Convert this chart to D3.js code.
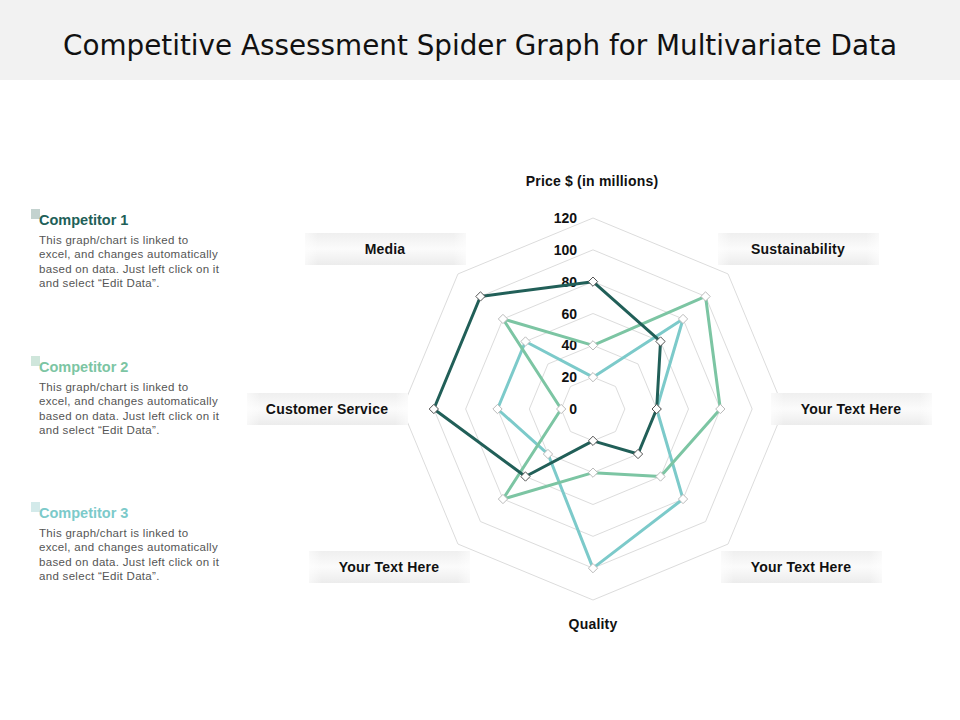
<!DOCTYPE html>
<html>
<head>
<meta charset="utf-8">
<script src="https://cdn.jsdelivr.net/npm/d3@7"></script>
<style>
  html, body { margin: 0; padding: 0; background: #fff; }
  svg { display: block; }
</style>
</head>
<body>
<svg id="chart" width="960" height="720"></svg>
<script>
// ---- data ----
const axes = ["Price $ (in millions)", "Sustainability", "Your Text Here", "Your Text Here",
              "Quality", "Your Text Here", "Customer Service", "Media"];
const seriesNames = ["Competitor 1", "Competitor 2", "Competitor 3"];
const competitor1 = [80, 60, 40, 40, 20, 60, 100, 100];
const competitor2 = [40, 100, 80, 60, 40, 80, 20, 80];
const competitor3 = [20, 80, 40, 80, 100, 40, 60, 60];
const tickValues = [0, 20, 40, 60, 80, 100, 120];
const colors = ["#215f58", "#7cc5a3", "#7ccaca"];
const swatchColors = ["#c3d2cf", "#cfe6db", "#d3eaea"];
const legendText = ["This graph/chart is linked to", "excel,  and changes automatically",
                    "based on data. Just left click on it", "and select \u201cEdit Data\u201d."];
const titleText = "Competitive Assessment Spider Graph for Multivariate Data";

// ---- layout ----
const svg = d3.select("#chart");
const cx = 593, cy = 409;
const r = d3.scaleLinear().domain([0, 120]).range([0, 191]);
const angle = d3.scaleLinear().domain([0, axes.length]).range([0, 2 * Math.PI]);
const pt = (i, v) => [cx + r(v) * Math.sin(angle(i)), cy - r(v) * Math.cos(angle(i))];
const FONT = "Liberation Sans, Arial, sans-serif";

const defs = svg.append("defs");
const grad = defs.append("linearGradient").attr("id", "boxGrad")
  .attr("x1", 0).attr("y1", 0).attr("x2", 0).attr("y2", 1);
grad.append("stop").attr("offset", "0%").attr("stop-color", "#efefef");
grad.append("stop").attr("offset", "50%").attr("stop-color", "#fbfbfb");
grad.append("stop").attr("offset", "100%").attr("stop-color", "#ececec");
const gradH = defs.append("linearGradient").attr("id", "boxFade")
  .attr("x1", 0).attr("y1", 0).attr("x2", 1).attr("y2", 0);
gradH.append("stop").attr("offset", "0%").attr("stop-color", "#fff").attr("stop-opacity", 0.6);
gradH.append("stop").attr("offset", "8%").attr("stop-color", "#fff").attr("stop-opacity", 0);
gradH.append("stop").attr("offset", "92%").attr("stop-color", "#fff").attr("stop-opacity", 0);
gradH.append("stop").attr("offset", "100%").attr("stop-color", "#fff").attr("stop-opacity", 0.6);

// title band
svg.append("rect").attr("x", 0).attr("y", 0).attr("width", 960).attr("height", 80).attr("fill", "#f2f2f2");
svg.append("text").attr("x", 480).attr("y", 55).attr("text-anchor", "middle")
  .attr("font-family", "DejaVu Sans, Verdana, sans-serif").attr("font-size", 29)
  .attr("textLength", 834).attr("lengthAdjust", "spacingAndGlyphs")
  .attr("fill", "#111").text(titleText);

// grid octagons
const gridG = svg.append("g");
tickValues.filter(t => t > 0).forEach(t => {
  gridG.append("polygon")
    .attr("points", axes.map((a, i) => pt(i, t).join(",")).join(" "))
    .attr("fill", "none").attr("stroke", "#dcdcdc").attr("stroke-width", 1);
});

// tick labels
svg.append("g").selectAll("text").data(tickValues).join("text")
  .attr("x", 577).attr("y", d => r(-d) + cy + 5)
  .attr("text-anchor", "end")
  .attr("font-family", FONT).attr("font-weight", "bold")
  .attr("font-size", 14).attr("fill", "#111").text(d => d);

// axis labels
const labelLayout = [
  { i: 0, x: 592, y: 181, box: false },
  { i: 1, x: 798, y: 249, box: true },
  { i: 2, x: 851, y: 409, box: true },
  { i: 3, x: 801, y: 567, box: true },
  { i: 4, x: 593, y: 624, box: false },
  { i: 5, x: 389, y: 567, box: true },
  { i: 6, x: 327, y: 409, box: true },
  { i: 7, x: 385, y: 249, box: true }
];
const lg = svg.append("g");
labelLayout.forEach(l => {
  if (l.box) {
    lg.append("rect").attr("x", l.x - 80).attr("y", l.y - 16).attr("width", 161).attr("height", 32)
      .attr("fill", "url(#boxGrad)");
    lg.append("rect").attr("x", l.x - 80).attr("y", l.y - 16).attr("width", 161).attr("height", 32)
      .attr("fill", "url(#boxFade)");
  }
  lg.append("text").attr("x", l.x).attr("y", l.y + 5).attr("text-anchor", "middle")
    .attr("font-family", FONT).attr("font-weight", "bold")
    .attr("font-size", 14).attr("letter-spacing", 0.2).attr("fill", "#111").text(axes[l.i]);
});

// series
const series = [competitor1, competitor2, competitor3];
const line = d3.line().curve(d3.curveLinearClosed);
const order = [2, 1, 0];
const sg = svg.append("g");
order.forEach(s => {
  const pts = series[s].map((v, i) => pt(i, v));
  sg.append("path").attr("d", line(pts)).attr("fill", "none")
    .attr("stroke", colors[s]).attr("stroke-width", 3).attr("stroke-linejoin", "round");
});
order.forEach(s => {
  const pts = series[s].map((v, i) => pt(i, v));
  sg.append("g").selectAll("path").data(pts).join("path")
    .attr("d", d3.symbol().type(d3.symbolDiamond2 || d3.symbolDiamond).size(55))
    .attr("transform", d => `translate(${d[0]},${d[1]})`)
    .attr("fill", "#fff").attr("stroke", s === 0 ? "#555" : "#bbb").attr("stroke-width", 1);
});

// legend
const legendY = [220, 367, 513];
seriesNames.forEach((name, s) => {
  const g = svg.append("g");
  const y0 = legendY[s];
  g.append("rect").attr("x", 31).attr("y", y0 - 11).attr("width", 9).attr("height", 10)
    .attr("fill", swatchColors[s]);
  g.append("text").attr("x", 39).attr("y", y0 + 5)
    .attr("font-family", FONT).attr("font-weight", "bold")
    .attr("font-size", 14.5).attr("fill", colors[s]).text(name);
  legendText.forEach((t, k) => {
    g.append("text").attr("x", 39).attr("y", y0 + 24 + k * 14.3)
      .attr("font-family", FONT)
      .attr("font-size", 11.5).attr("letter-spacing", 0.3).attr("fill", "#555").text(t);
  });
});
</script>
</body>
</html>
